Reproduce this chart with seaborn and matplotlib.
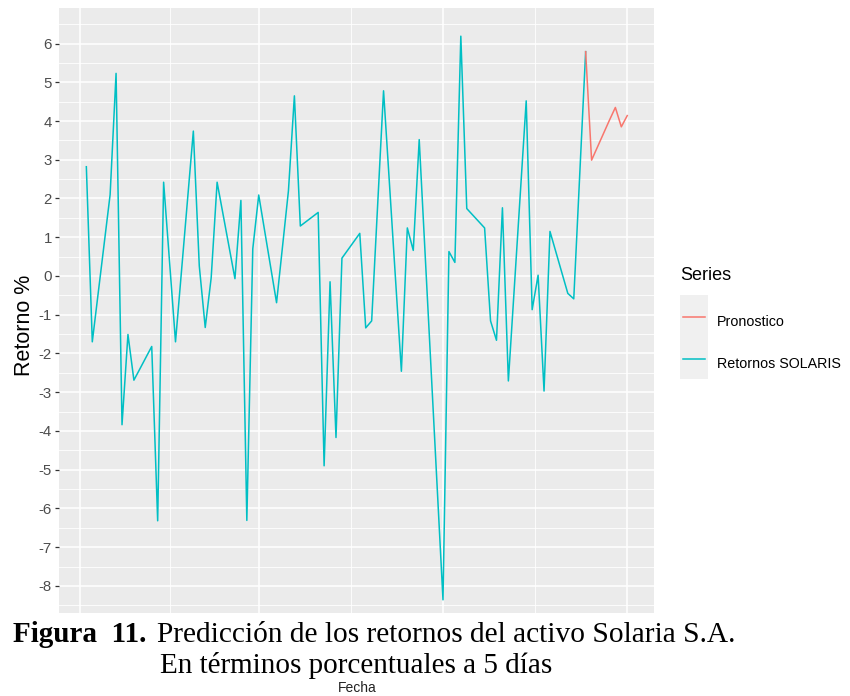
import matplotlib
matplotlib.use("Agg")
import matplotlib.pyplot as plt
import matplotlib.dates as mdates
from matplotlib import font_manager
from matplotlib.lines import Line2D
from matplotlib.patches import Rectangle
from matplotlib.ticker import FixedLocator, NullFormatter
import numpy as np
import pandas as pd
import seaborn as sns

# ---------------- data ----------------
obs_dates = [
    "2022-06-02", "2022-06-03", "2022-06-06", "2022-06-07", "2022-06-08", "2022-06-09",
    "2022-06-10", "2022-06-13", "2022-06-14", "2022-06-15", "2022-06-17", "2022-06-20",
    "2022-06-21", "2022-06-22", "2022-06-23", "2022-06-24", "2022-06-27", "2022-06-28",
    "2022-06-29", "2022-06-30", "2022-07-01", "2022-07-04", "2022-07-06", "2022-07-07",
    "2022-07-08", "2022-07-11", "2022-07-12", "2022-07-13", "2022-07-14", "2022-07-15",
    "2022-07-18", "2022-07-19", "2022-07-20", "2022-07-22", "2022-07-25", "2022-07-26",
    "2022-07-27", "2022-07-28", "2022-08-01", "2022-08-02", "2022-08-03", "2022-08-04",
    "2022-08-05", "2022-08-08", "2022-08-09", "2022-08-10", "2022-08-11", "2022-08-12",
    "2022-08-15", "2022-08-16", "2022-08-17", "2022-08-18", "2022-08-19", "2022-08-22",
    "2022-08-23", "2022-08-25",
]
obs_values = [
    2.82, -1.70, 2.10, 5.23, -3.84, -1.51,
    -2.69, -1.82, -6.32, 2.42, -1.70, 3.74,
    0.26, -1.33, -0.05, 2.42, -0.07, 1.95,
    -6.31, 0.70, 2.09, -0.69, 2.20, 4.65,
    1.29, 1.64, -4.90, -0.15, -4.17, 0.46,
    1.10, -1.34, -1.16, 4.78, -2.46, 1.24,
    0.66, 3.52, -8.36, 0.63, 0.35, 6.19,
    1.74, 1.24, -1.16, -1.66, 1.76, -2.71,
    4.52, -0.87, 0.02, -2.97, 1.15, -0.45,
    -0.59, 5.79,
]
fc_dates = ["2022-08-25", "2022-08-26", "2022-08-29", "2022-08-30", "2022-08-31", "2022-09-01"]
fc_values = [5.79, 2.99, 4.02, 4.35, 3.85, 4.14]

series_names = ["Pronostico", "Retornos SOLARIS"]
series_colors = ["#F8766D", "#00BFC4"]
y_ticks = [-8, -7, -6, -5, -4, -3, -2, -1, 0, 1, 2, 3, 4, 5, 6]

legend_title = "Series"
x_title = "Fecha"
y_title = "Retorno %"
caption_bold = "Figura  11."
caption_line1 = "Predicción de los retornos del activo Solaria S.A."
caption_line2 = "En términos porcentuales a 5 días"

# ---------------- fonts ----------------
available = {f.name for f in font_manager.fontManager.ttflist}
if "Liberation Sans Narrow" in available:
    sans = ["Liberation Sans Narrow", "Liberation Sans", "DejaVu Sans"]
    tick_size, legend_size, big_size = 12.5, 12.0, 15.0
else:
    sans = ["Liberation Sans", "DejaVu Sans"]
    tick_size, legend_size, big_size = 10.8, 10.3, 13.0

plt.rcParams["font.family"] = sans
plt.rcParams["axes.unicode_minus"] = False

W, H = 850, 696
fx = lambda x: x / W
fy = lambda y: 1 - y / H

fig = plt.figure(figsize=(W / 100, H / 100), dpi=100)
fig.patch.set_facecolor("white")
ax = fig.add_axes([fx(59.3), fy(628), (654.3 - 59.3) / W, (628 - 8) / H])
ax.set_facecolor("#EBEBEB")

obs = pd.DataFrame({"Fecha": pd.to_datetime(obs_dates), "Retorno": obs_values,
                    "Series": series_names[1]})
fc = pd.DataFrame({"Fecha": pd.to_datetime(fc_dates), "Retorno": fc_values,
                   "Series": series_names[0]})
df = pd.concat([obs, fc], ignore_index=True)
palette = dict(zip(series_names, series_colors))

sns.lineplot(data=df, x="Fecha", y="Retorno", hue="Series",
             hue_order=[series_names[1], series_names[0]], palette=palette,
             estimator=None, linewidth=1.1, legend=False, ax=ax)

# ggplot-like expansion (5%)
xmin, xmax = df["Fecha"].min(), df["Fecha"].max()
span = xmax - xmin
ax.set_xlim(xmin - 0.05 * span, xmax + 0.05 * span)
ymin, ymax = df["Retorno"].min(), df["Retorno"].max()
r = ymax - ymin
ax.set_ylim(ymin - 0.05 * r, ymax + 0.05 * r)

# ticks and grid
ax.xaxis.set_major_locator(mdates.MonthLocator(bymonthday=1))
xt = [t for t in ax.get_xticks() if ax.get_xlim()[0] <= t <= ax.get_xlim()[1]]
xminor = [(a + b) / 2 for a, b in zip(xt[:-1], xt[1:])]
ax.xaxis.set_minor_locator(FixedLocator(xminor))
# x tick labels are hidden beneath the caption in the reference
ax.xaxis.set_major_formatter(NullFormatter())

ax.yaxis.set_major_locator(FixedLocator(y_ticks))
ylo, yhi = ax.get_ylim()
yminor = [(a + b) / 2 for a, b in zip(y_ticks[:-1], y_ticks[1:])]
yminor = [y_ticks[0] - 0.5] + yminor + [y_ticks[-1] + 0.5]
yminor = [v for v in yminor if ylo <= v <= yhi]
ax.yaxis.set_minor_locator(FixedLocator(yminor))

ax.grid(which="major", color="white", linewidth=1.1)
ax.grid(which="minor", color="white", linewidth=0.6)
ax.set_axisbelow(True)
for s in ax.spines.values():
    s.set_visible(False)
ax.tick_params(axis="both", which="major", length=3.2, width=0.9, color="#333333",
               labelcolor="#4D4D4D", labelsize=tick_size, pad=2.2)
ax.tick_params(axis="both", which="minor", length=0)

ax.set_ylabel(y_title, fontsize=15.5, family=["Liberation Sans", "DejaVu Sans"], color="black")
ax.yaxis.set_label_coords((35 - 59.3) / 595, (628 - 325) / 620)
ax.set_xlabel(x_title, fontsize=10, color="#222222")
ax.xaxis.set_label_coords(0.5, (628 - 692.5) / 620)
ax.xaxis.label.set_va("baseline")

# ---------------- legend (ggplot style) ----------------
fig.text(fx(680), fy(280), legend_title, fontsize=big_size, va="baseline", color="black")
fig.add_artist(Rectangle((fx(680), fy(379.3)), 28 / W, 84.3 / H, transform=fig.transFigure,
                         facecolor="#F0F0F0", edgecolor="none"))
key_y = [317, 359]
for name, yk, yt in zip(series_names, key_y, [326, 368]):
    fig.add_artist(Line2D([fx(683), fx(705)], [fy(yk), fy(yk)], color=palette[name],
                          linewidth=1.1, transform=fig.transFigure))
    fig.text(fx(717), fy(yt), name, fontsize=legend_size, va="baseline", color="black")

# ---------------- caption overlay ----------------
fig.add_artist(Rectangle((0, fy(678)), 1, (678 - 613) / H, transform=fig.transFigure,
                         facecolor="white", edgecolor="none", zorder=10))
serif = ["Liberation Serif", "DejaVu Serif"]
fig.text(fx(13), fy(642.5), caption_bold, family=serif, weight="bold", fontsize=21,
         va="baseline", zorder=11)
fig.text(fx(157), fy(642.5), caption_line1, family=serif, fontsize=21.2,
         va="baseline", zorder=11)
fig.text(fx(160), fy(673), caption_line2, family=serif, fontsize=21,
         va="baseline", zorder=11)

fig.savefig("out.png", dpi=100)
